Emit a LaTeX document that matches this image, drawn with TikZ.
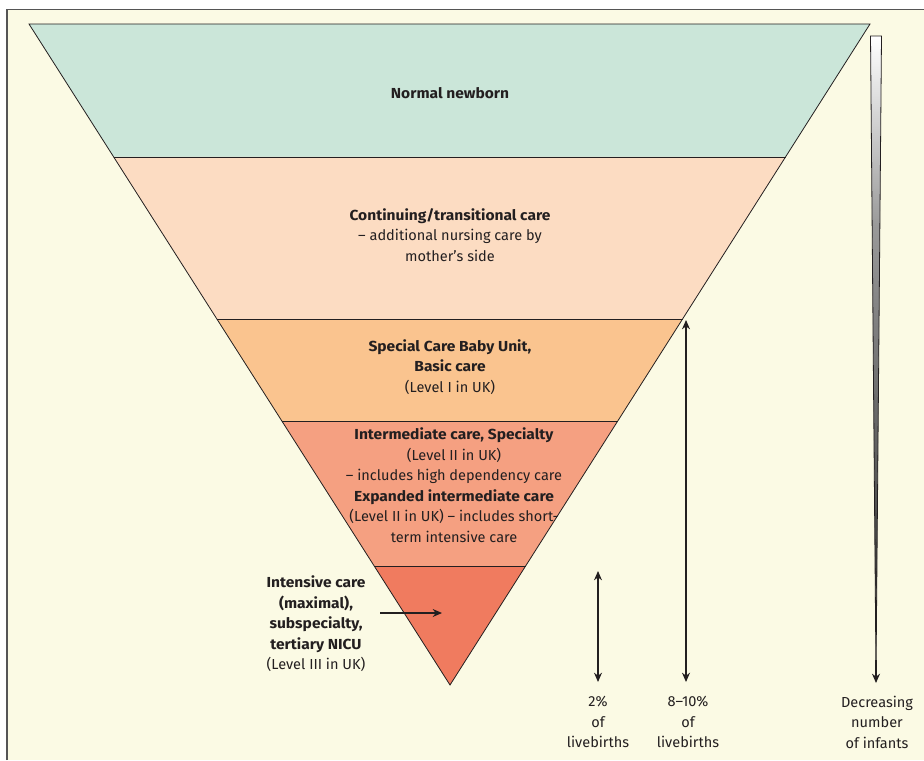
\documentclass[tikz,border=0pt]{standalone}
\usepackage{fontspec}
\setmainfont{Fira Sans}[BoldFeatures={FakeStretch=1.07}]
\usetikzlibrary{calc,arrows.meta}
\definecolor{bgc}{HTML}{FBFAE4}
\definecolor{frame}{HTML}{555555}
\definecolor{bandA}{HTML}{CBE6D9}
\definecolor{bandB}{HTML}{FCDCC2}
\definecolor{bandC}{HTML}{FAC48F}
\definecolor{bandD}{HTML}{F5A081}
\definecolor{bandE}{HTML}{F07B5F}
\definecolor{txt}{HTML}{231F20}
\pgfdeclareverticalshading{wedgeshade}{100bp}{color(0bp)=(black!85); color(25bp)=(black!85); color(43bp)=(black!62); color(60bp)=(black!40); color(75bp)=(white); color(100bp)=(white)}
\tikzset{
  lbl/.style={align=center,font=\fontsize{10.9pt}{15.4pt}\selectfont,text=txt,inner sep=0pt},
  edge/.style={draw=txt,line width=0.6pt},
  dblarrow/.style={txt,line width=0.8pt,{Stealth[length=7pt,width=6pt]}-{Stealth[length=7pt,width=6pt]}},
  onearrow/.style={txt,line width=0.8pt,-{Stealth[length=7pt,width=6pt]}}
}
\begin{document}
\begin{tikzpicture}[x=0.75pt,y=-0.75pt]
\useasboundingbox (0,0) rectangle (924,760);
\fill[white] (0,0) rectangle (924,760);
\fill[bgc] (7,9) rectangle (924,760);
\draw[frame,line width=1pt] (7,760) -- (7,9.5) -- (924,9.5);
% triangle corners
\coordinate (tl) at (29,24);
\coordinate (tr) at (870,24);
\coordinate (ap) at (450,685);
\coordinate (l1) at ($(tl)!0.2012!(ap)$); \coordinate (r1) at ($(tr)!0.2012!(ap)$);
\coordinate (l2) at ($(tl)!0.4463!(ap)$); \coordinate (r2) at ($(tr)!0.4463!(ap)$);
\coordinate (l3) at ($(tl)!0.6006!(ap)$); \coordinate (r3) at ($(tr)!0.6006!(ap)$);
\coordinate (l4) at ($(tl)!0.8200!(ap)$); \coordinate (r4) at ($(tr)!0.8200!(ap)$);
\fill[bandA] (tl) -- (tr) -- (r1) -- (l1) -- cycle;
\fill[bandB] (l1) -- (r1) -- (r2) -- (l2) -- cycle;
\fill[bandC] (l2) -- (r2) -- (r3) -- (l3) -- cycle;
\fill[bandD] (l3) -- (r3) -- (r4) -- (l4) -- cycle;
\fill[bandE] (l4) -- (r4) -- (ap) -- cycle;
\draw[edge] (tl) -- (tr) -- (ap) -- cycle;
\draw[edge] (l1) -- (r1);
\draw[edge] (l2) -- (r2);
\draw[edge] (l3) -- (r3);
\draw[edge] (l4) -- (r4);
% band texts
\node[lbl,font=\fontsize{10.9pt}{15.4pt}\selectfont\bfseries] (nb) at (450,93) {Normal newborn};
\node[lbl] (ct) at (450,235) {\textbf{Continuing/transitional care}\\– additional nursing care by\\mother's side};
\node[lbl] (sc) at (450,367) {\textbf{Special Care Baby Unit,}\\\textbf{Basic care}\\(Level I in UK)};
\node[lbl] (im) at (454,485) {\textbf{Intermediate care, Specialty}\\(Level II in UK)\\– includes high dependency care\\\textbf{Expanded intermediate care}\\(Level II in UK) – includes short-\\term intensive care};
\node[lbl] (ic) at (316,624) {\textbf{Intensive care}\\\textbf{(maximal),}\\\textbf{subspecialty,}\\\textbf{tertiary NICU}\\(Level III in UK)};
\coordinate (icA) at (380,613);
\coordinate (icB) at (442,613);
\draw[onearrow] (icA) -- (icB);
% side arrows
\coordinate (a2t) at (598,571);
\coordinate (a2b) at (598,682);
\draw[dblarrow] (a2t) -- (a2b);
\coordinate (a8t) at (686,320);
\coordinate (a8b) at (686,682);
\draw[dblarrow] (a8t) -- (a8b);
\node[lbl] (p2) at (598,722) {2\%\\of\\livebirths};
\node[lbl] (p8) at (688,722) {8–10\%\\of\\livebirths};
% decreasing arrow
\coordinate (dtl) at (870.5,36);
\coordinate (dtr) at (881.5,36);
\coordinate (dbt) at (876,674);
\shade[shading=wedgeshade,draw=txt,line width=0.6pt] (dtl) -- (dtr) -- (dbt) -- cycle;
\coordinate (dst) at (876,660);
\coordinate (den) at (876,683);
\draw[onearrow] (dst) -- (den);
\node[lbl] (dc) at (877,722) {Decreasing\\number\\of infants};
\end{tikzpicture}
\end{document}
